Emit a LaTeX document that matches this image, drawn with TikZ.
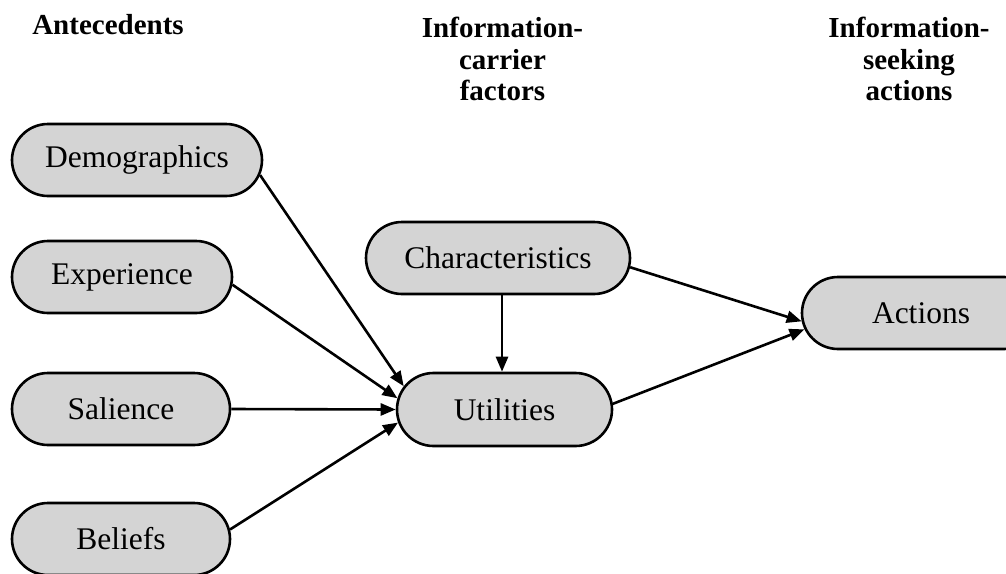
\documentclass[tikz,border=0pt]{standalone}
\usepackage{fontspec}
\setmainfont{Liberation Serif}
\usetikzlibrary{shapes.misc,arrows.meta}
\definecolor{nodefill}{gray}{0.83}
\begin{document}
\begin{tikzpicture}[x=1pt,y=-1pt,
  box/.style={rounded rectangle, draw=black, line width=2.6pt, fill=nodefill,
    minimum height=72pt, inner sep=0pt, font=\fontsize{31.5}{36}\selectfont},
  head/.style={font=\bfseries\fontsize{29}{31.5}\selectfont, align=center, inner sep=0pt},
  arr/.style={line width=2.6pt, -{Triangle[length=15pt,width=12pt]}}]
\useasboundingbox (0,0) rectangle (1006,573);
\clip (0,0) rectangle (1006,573);
% headers
\node[head, anchor=base] (h1) at (108,34) {Antecedents};
\node[head, anchor=north] (h2) at (502.5,17) {Information-\\carrier\\factors};
\node[head, anchor=north] (h3) at (909,17) {Information-\\seeking\\actions};
% nodes
\node[box, minimum width=250pt] (demo) at (137,160) {Demographics};
\node[box, minimum width=220pt] (exper) at (122,277) {Experience};
\node[box, minimum width=218pt] (sal) at (121,409) {Salience};
\node[box, minimum width=218pt] (bel) at (121,539) {Beliefs};
\node[box, minimum width=264pt] (char) at (498,258) {Characteristics};
\node[box, minimum width=215pt, minimum height=73pt] (util) at (504.5,409.5) {Utilities};
\node[box, minimum width=238pt] (act) at (921,313) {Actions};
% connectors
\draw[arr] (demo.-7) -- (util.167);
\draw[arr] (exper.-4) -- (util.174);
\draw[arr] (sal.0) -- (util.180);
\draw[arr] (bel.5) -- (util.-173);
\draw[arr] ([xshift=4pt]char.south) -- ([xshift=-2.5pt]util.north);
\draw[arr] (char.-4) -- (act.184);
\draw[arr] (util.3) -- (act.188);
\end{tikzpicture}
\end{document}
